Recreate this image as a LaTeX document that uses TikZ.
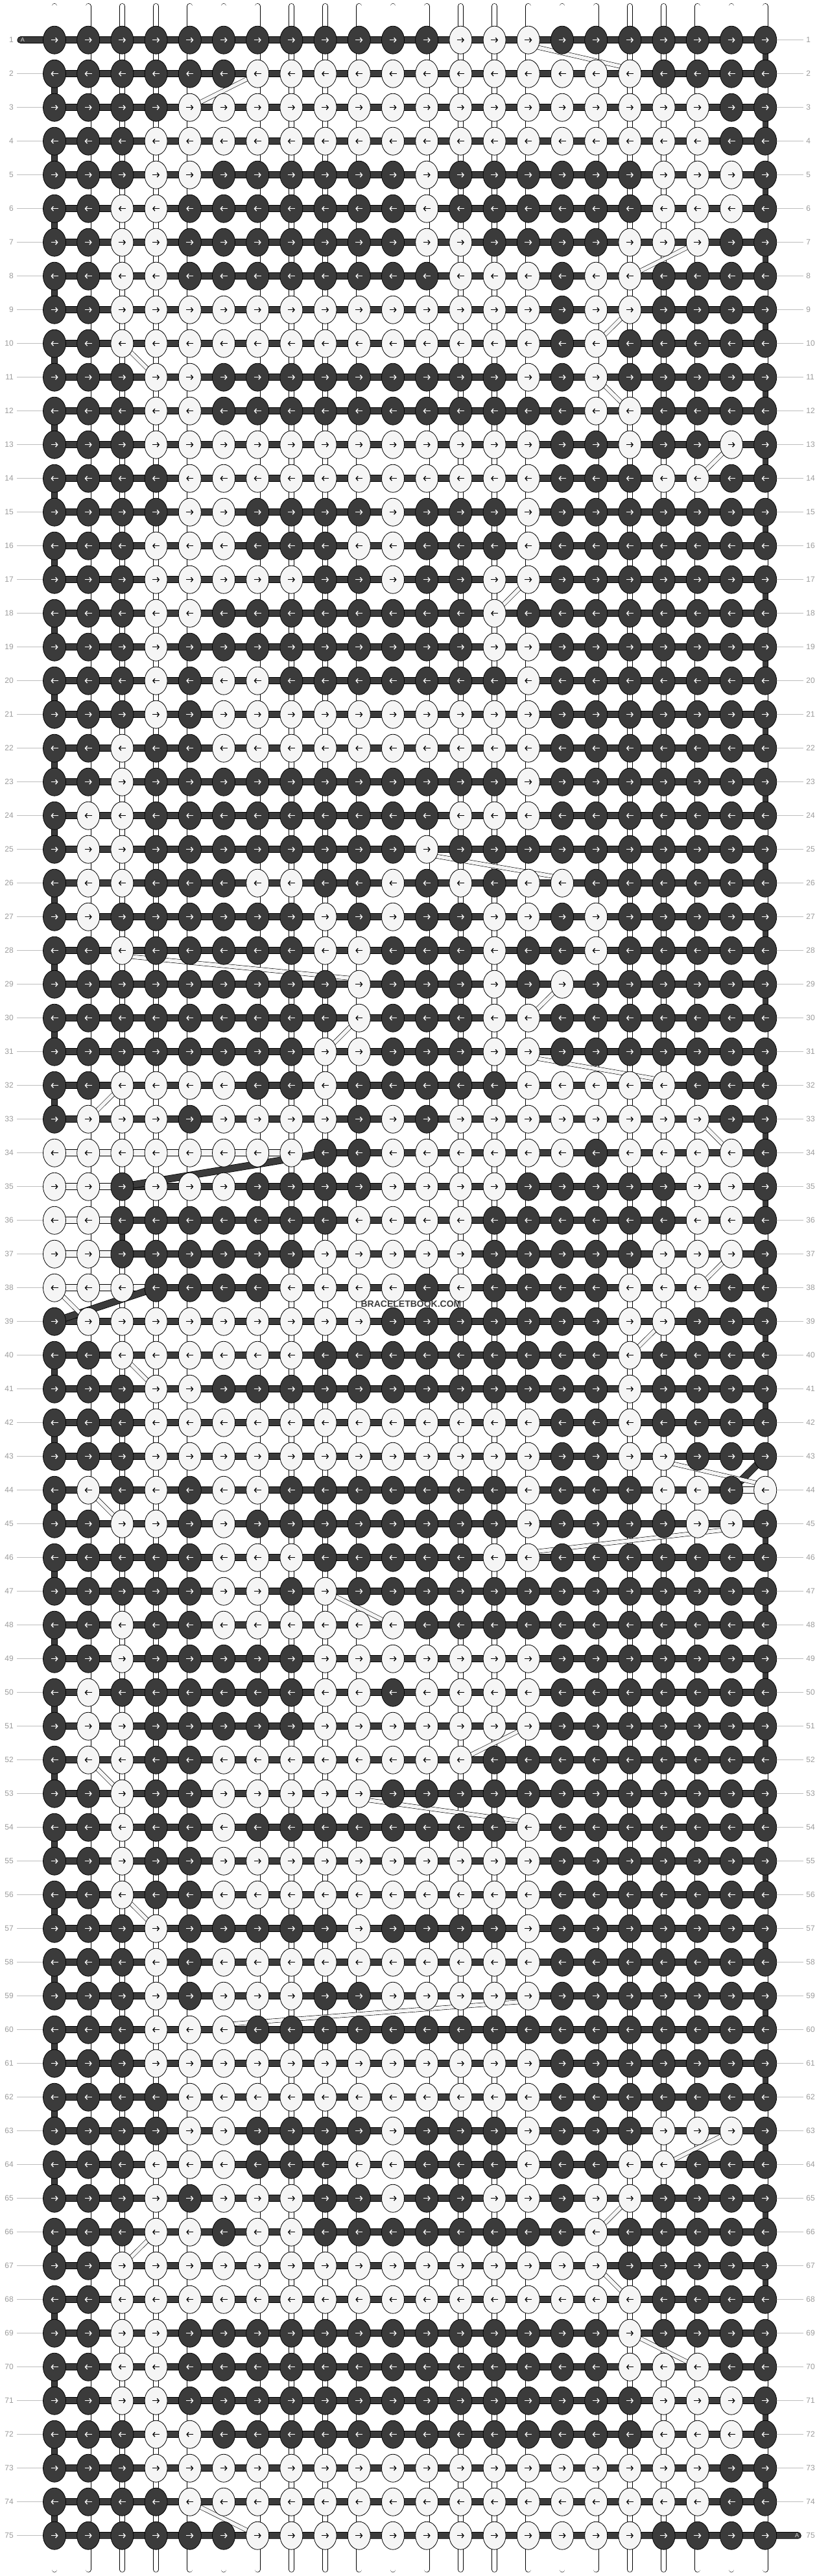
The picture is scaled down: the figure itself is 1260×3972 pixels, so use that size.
\documentclass[tikz,border=0pt]{standalone}
\usepackage{fontspec}
\setmainfont{Liberation Sans}
\usetikzlibrary{shapes.geometric,arrows.meta}
\definecolor{dkc}{HTML}{3B3B3B}
\definecolor{ltc}{HTML}{F5F5F5}
\definecolor{lblc}{HTML}{9C9C9C}
\definecolor{lnc}{HTML}{BDBDBD}
\newcount\kcol
\def\knotparse#1{\ifx#1\relax\else\global\advance\kcol by 1\relax\knotdraw{#1}\expandafter\knotparse\fi}
\def\knotdraw#1{\edef\kc{\the\kcol}%
 \ifnum#1=1 \node[dknot] (k-\krow-\kc) at (p-\krow-\kc) {};\def\acol{white}%
 \else\node[lknot] (k-\krow-\kc) at (p-\krow-\kc) {};\def\acol{black}\fi
 \ifodd\krow\relax
  \draw[karr,draw=\acol] ([xshift=-5.5pt]k-\krow-\kc.center) -- ([xshift=5.5pt]k-\krow-\kc.center);%
 \else
  \draw[karr,draw=\acol] ([xshift=5.5pt]k-\krow-\kc.center) -- ([xshift=-5.5pt]k-\krow-\kc.center);%
 \fi}
\begin{document}
\begin{tikzpicture}[x=1pt,y=-1pt,
 dknot/.style={ellipse,draw=black,line width=0.8pt,fill=dkc,minimum width=35pt,minimum height=43pt,inner sep=0pt},
 lknot/.style={dknot,fill=ltc},
 karr/.style={line width=1.3pt,-{Straight Barb[length=3pt,width=7pt]}},
 vstr/.style={line width=0.7pt,double=white,double distance=7.5pt,line cap=round},
 dvc/.style={line width=0.7pt,double=dkc,double distance=8pt},
 hbar/.style={line width=0.8pt,double=dkc,double distance=9.5pt},
 wbar/.style={line width=0.8pt,double=ltc,double distance=9.5pt},
 strand/.style={line width=0.6pt,double=ltc,double distance=5.5pt},
 lbl/.style={font=\fontsize{12}{12}\selectfont,text=lblc,inner sep=0pt},
 lblline/.style={draw=lnc,line width=0.9pt}]
\fill[white] (0,0) rectangle (1260,3972);
\useasboundingbox (0,0) rectangle (1260,3972);
% grid positions
\foreach \r in {1,...,75}{\foreach \c in {1,...,22}{\coordinate (p-\r-\c) at ({84+52.2*(\c-1)},{61.7+52*(\r-1)});}}
% vertical strings
\foreach \c in {1,...,22}{
 \coordinate (t-\c) at ({84+52.2*(\c-1)},9.5);
 \coordinate (b-\c) at ({84+52.2*(\c-1)},3962);
 \draw[vstr] (t-\c) -- (b-\c);}
% working string turning at the edges
\foreach \r in {2,4,...,32}{\pgfmathtruncatemacro\rn{\r+1}\draw[dvc] (p-\r-1) -- (p-\rn-1);}
\foreach \r in {40,42,...,74}{\pgfmathtruncatemacro\rn{\r+1}\draw[dvc] (p-\r-1) -- (p-\rn-1);}
\foreach \r in {1,3,...,41}{\pgfmathtruncatemacro\rn{\r+1}\draw[dvc] (p-\r-22) -- (p-\rn-22);}
\foreach \r in {45,47,...,73}{\pgfmathtruncatemacro\rn{\r+1}\draw[dvc] (p-\r-22) -- (p-\rn-22);}
\draw[dvc] (p-36-3) -- (p-37-3);
% horizontal working strings
\foreach \r in {1,...,33}{\draw[hbar] (p-\r-1) -- (p-\r-22);}
\foreach \r in {39,...,43}{\draw[hbar] (p-\r-1) -- (p-\r-22);}
\foreach \r in {45,...,75}{\draw[hbar] (p-\r-1) -- (p-\r-22);}
\draw[wbar] (p-34-1) -- (p-34-8);
\draw[hbar] (p-34-9) -- (p-34-22);
\foreach \r in {35,36,37}{\draw[wbar] (p-\r-1) -- (p-\r-3);\draw[hbar] (p-\r-3) -- (p-\r-22);}
\draw[wbar] (p-38-1) -- (p-38-4);
\draw[hbar] (p-38-4) -- (p-38-22);
\draw[hbar] (p-44-1) -- (p-44-21);
\draw[wbar] (p-44-21) -- (p-44-22);
% diagonal moves of the working string
\draw[hbar] (p-34-9) -- (p-35-3);
\draw[hbar] (p-38-4) -- (p-39-1);
\draw[hbar] (p-43-22) -- (p-44-21);
% strands moved diagonally
\foreach \a/\b in {2-7/3-5,7-20/8-18,9-18/10-17,10-3/11-4,11-17/12-18,13-21/14-20,17-15/18-14,29-16/30-15,30-10/31-9,32-3/33-2,33-20/34-21,37-21/38-20,38-1/39-2,39-19/40-18,40-3/41-4,44-2/45-3,47-9/48-11,51-15/52-13,52-2/53-3,56-3/57-4,63-21/64-19,65-18/66-17,66-4/67-3,67-17/68-18,69-18/70-20,74-5/75-7}{\draw[strand] (p-\a) -- (p-\b);}
\foreach \a/\b in {1-15/2-18,25-12/26-16,28-3/29-10,31-15/32-19,43-19/44-22,45-21/46-15,53-10/54-15,59-15/60-6}{\draw[strand] ([yshift=-8pt]p-\a) -- ([yshift=8pt]p-\b);}
% A ends
\coordinate (aL) at ([xshift=-52pt]p-1-1);
\coordinate (aR) at ([xshift=50pt]p-75-22);
\draw[hbar,line cap=round] (aL) -- (p-1-1);
\draw[hbar,line cap=round] (p-75-22) -- (aR);
% knots
\foreach \r/\s in {1/1111111111110001111111,2/1111110000000000001111,3/1111000000000000000011,4/1110000000000000000011,5/1110011111101111110001,6/1100111111101111110001,7/1100111111100111100011,8/1100111111110001001111,9/1100000000000001001111,10/1100000000000001011111,11/1110011111111101011111,12/1110011111111111001111,13/1110000000000001101101,14/1111000000000001110011,15/1111001111011101111111,16/1110001110011101111111,17/1110000011011001111111,18/1110011111111011111111,19/1110111111111001111111,20/1110100111111101111111,21/1110100000000001111111,22/1101100000000001111111,23/1101111111111101111111,24/1001111111110001111111,25/1001111111101111111111,26/1001110011010100111111,27/1011111101011001011111,28/1101111100111011011111,29/1111111110111010111111,30/1111111110111001111111,31/1111111100111001111111,32/1100001101111100000111,33/1000100001010000000011,34/0000000011000000100001,35/0010001111000011111001,36/0011111110000111111001,37/0011111100000111110001,38/0001111000010111100011,39/1000000000111111100111,40/1100000011111111101111,41/1110011111111111101111,42/1110000000000001101111,43/1110000000000001100111,44/1010100111111101110010,45/1100101111111101111001,46/1111100011111001111111,47/1111100101111111111111,48/1101100000011111111111,49/1101111100000001111111,50/1011111100100001111111,51/1001111100000001111111,52/1001100000000111111111,53/1101100000111111111111,54/1101101111111101111111,55/1101100000000001111111,56/1101100000000001111111,57/1110111110111101111111,58/1110100000000001111111,59/1110100011000001111111,60/1110001111111111111111,61/1110000000000001111111,62/1111000000000001111111,63/1111001111011101110001,64/1110001110011101100111,65/1110100011011001001111,66/1110010011111111011111,67/1100000000000000011111,68/1100000000000000001111,69/1100111111111111101111,70/1100111111111111100011,71/1100111111111111110001,72/1110011111111111110001,73/1110000000000000000011,74/1111000000000000000011,75/1111110000000000001111}{\edef\krow{\r}\global\kcol=0 \expandafter\knotparse\s\relax}
% row numbers
\foreach \r in {1,...,75}{
 \node[lbl,anchor=east] (ll-\r) at ([xshift=-63pt]p-\r-1) {\r};
 \node[lbl,anchor=west] (lr-\r) at ([xshift=63pt]p-\r-22) {\r};}
\foreach \r in {2,...,75}{\draw[lblline] ([xshift=5pt]ll-\r.east) -- (k-\r-1.west);}
\foreach \r in {1,...,74}{\draw[lblline] (k-\r-22.east) -- ([xshift=-4pt]lr-\r.west);}
\node[font=\fontsize{9}{9}\selectfont,text=white!85!black,inner sep=0pt] (aLt) at ([xshift=3pt]aL) {A};
\node[font=\fontsize{9}{9}\selectfont,text=white!85!black,inner sep=0pt] (aRt) at ([xshift=-1pt]aR) {A};
\node[font=\bfseries\fontsize{14}{14}\selectfont,text=dkc,inner sep=0pt] (wm) at (634,2011) {BRACELETBOOK.COM};
\end{tikzpicture}
\end{document}
